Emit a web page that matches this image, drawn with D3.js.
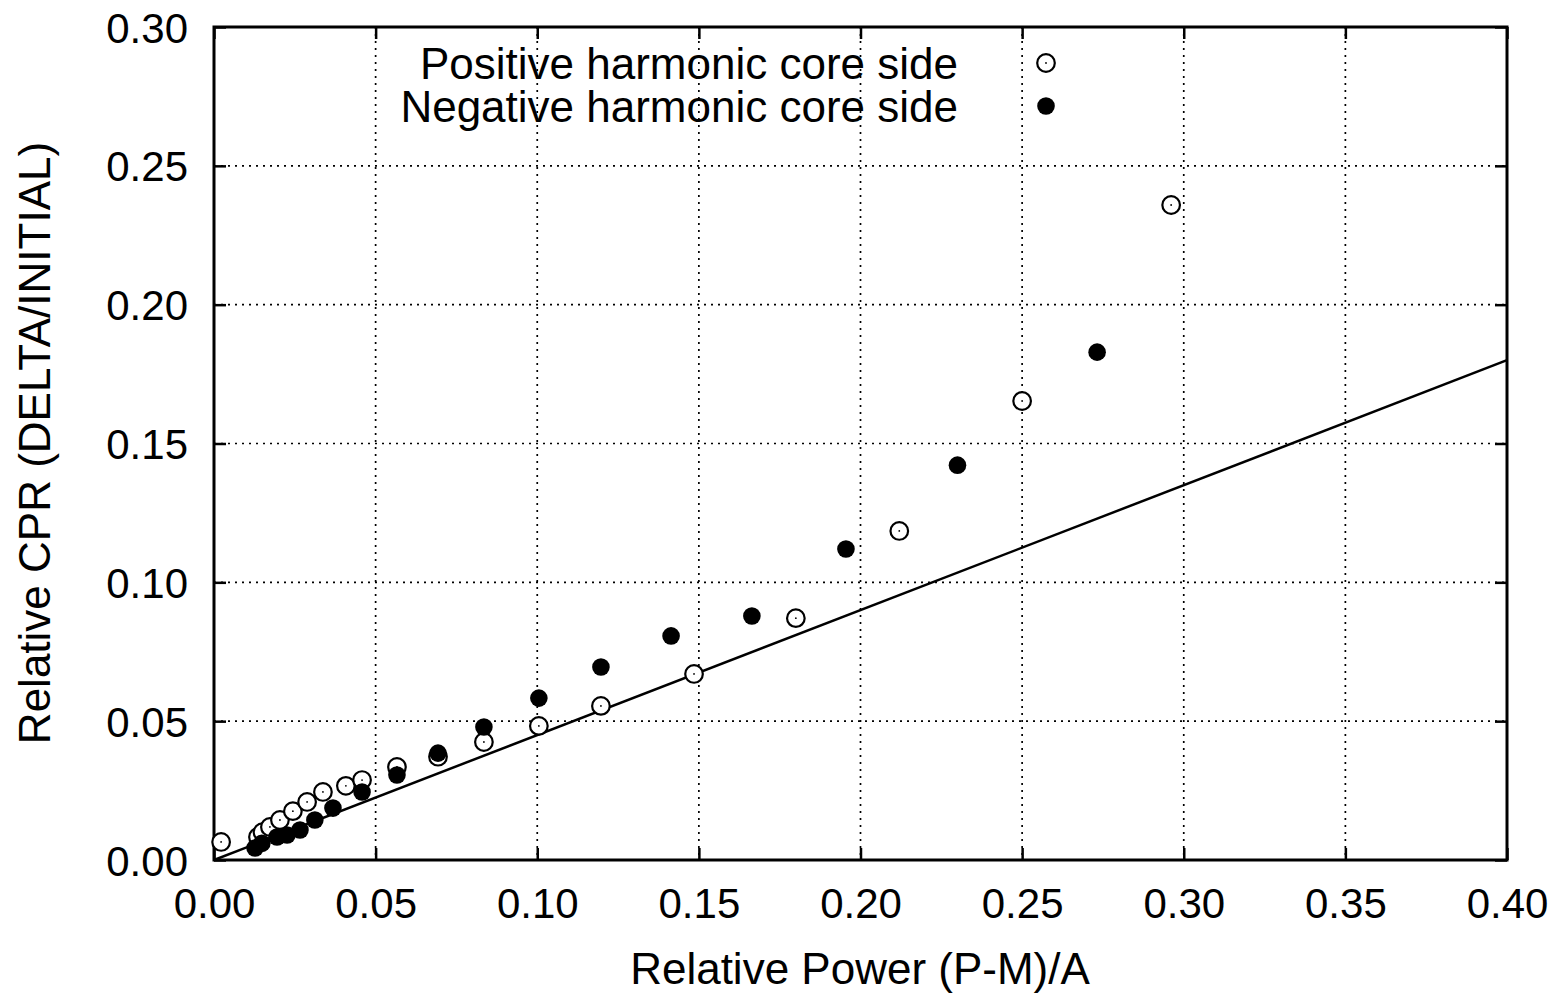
<!DOCTYPE html>
<html lang="en">
<head>
  <meta charset="UTF-8">
  <title>Relative CPR vs Relative Power</title>
  <style>
    body {
      margin: 0;
      padding: 0;
      background-color: #ffffff;
    }
    svg {
      display: block;
      font-family: "Liberation Sans", Arial, sans-serif;
    }
  </style>
</head>
<body>
<div id="chart"></div>
<script src="https://d3js.org/d3.v7.min.js"></script>
<script>
  // data
  const xTicks = [0, 0.05, 0.10, 0.15, 0.20, 0.25, 0.30, 0.35, 0.40];
  const yTicks = [0, 0.05, 0.10, 0.15, 0.20, 0.25, 0.30];

  const posX = [0.0022, 0.0136, 0.0150, 0.0173, 0.0204, 0.0244, 0.0288, 0.0337, 0.0408, 0.0458, 0.0566,
                0.0693, 0.0835, 0.1005, 0.1197, 0.1485, 0.1800, 0.2120, 0.2500, 0.2961];
  const posY = [0.0065, 0.0083, 0.0100, 0.0119, 0.0144, 0.0176, 0.0209, 0.0245, 0.0267, 0.0288, 0.0335,
                0.0372, 0.0425, 0.0483, 0.0555, 0.0670, 0.0871, 0.1185, 0.1653, 0.2359];

  const negX = [0.0127, 0.0148, 0.0195, 0.0226, 0.0266, 0.0312, 0.0368, 0.0458, 0.0566,
                0.0693, 0.0835, 0.1005, 0.1197, 0.1414, 0.1664, 0.1955, 0.2300, 0.2732];
  const negY = [0.0043, 0.0060, 0.0083, 0.0090, 0.0108, 0.0144, 0.0187, 0.0245, 0.0306,
                0.0385, 0.0479, 0.0583, 0.0695, 0.0807, 0.0879, 0.1120, 0.1422, 0.1829];

  const fitX = [0, 0.40];
  const fitY = [0, 0.18];

  const seriesNames = ["Positive harmonic core side", "Negative harmonic core side"];

  const width = 1568;
  const height = 994;
  const plot = { left: 214, right: 1507, top: 27, bottom: 860 };

  const svg = d3.select("#chart").append("svg")
          .attr("width", width)
          .attr("height", height);

  svg.append("rect").attr("width", width).attr("height", height).attr("fill", "#fff");

  const xScale = d3.scaleLinear().domain([0, 0.4]).range([plot.left, plot.right]);
  const yScale = d3.scaleLinear().domain([0, 0.3]).range([plot.bottom, plot.top]);
  const fmt = d3.format(".2f");

  // dotted grid
  const grid = svg.append("g").attr("stroke", "#000").attr("stroke-width", 1.7)
          .attr("stroke-dasharray", "2,5");
  grid.selectAll(".gx").data(xTicks.slice(1, -1)).enter().append("line")
          .attr("x1", d => xScale(d)).attr("x2", d => xScale(d))
          .attr("y1", plot.top).attr("y2", plot.bottom);
  grid.selectAll(".gy").data(yTicks.slice(1, -1)).enter().append("line")
          .attr("y1", d => yScale(d)).attr("y2", d => yScale(d))
          .attr("x1", plot.left).attr("x2", plot.right);

  // axes with inward ticks, mirrored
  const tickLen = 12;
  const styleAxis = g => {
    g.select(".domain").remove();
    g.selectAll(".tick line").attr("stroke", "#000").attr("stroke-width", 2.5);
    g.selectAll(".tick text").attr("fill", "#000").attr("font-size", 42)
            .attr("font-family", "'Liberation Sans', Arial, sans-serif");
  };

  svg.append("g").attr("transform", `translate(0,${plot.bottom})`)
          .call(d3.axisBottom(xScale).tickValues(xTicks).tickFormat(fmt)
                  .tickSizeInner(-tickLen).tickPadding(28))
          .call(styleAxis)
          .call(g => g.selectAll(".tick text").attr("dy", "0.72em"));
  svg.append("g").attr("transform", `translate(0,${plot.top})`)
          .call(d3.axisTop(xScale).tickValues(xTicks).tickFormat("").tickSizeInner(-tickLen))
          .call(styleAxis);
  svg.append("g").attr("transform", `translate(${plot.left},0)`)
          .call(d3.axisLeft(yScale).tickValues(yTicks).tickFormat(fmt)
                  .tickSizeInner(-tickLen).tickPadding(26))
          .call(styleAxis)
          .call(g => g.selectAll(".tick text").attr("dy", "0.36em"));
  svg.append("g").attr("transform", `translate(${plot.right},0)`)
          .call(d3.axisRight(yScale).tickValues(yTicks).tickFormat("").tickSizeInner(-tickLen))
          .call(styleAxis);

  // frame
  svg.append("rect")
          .attr("x", plot.left).attr("y", plot.top)
          .attr("width", plot.right - plot.left).attr("height", plot.bottom - plot.top)
          .attr("fill", "none").attr("stroke", "#000").attr("stroke-width", 3);

  // fitted line
  const line = d3.line().x(d => xScale(d[0])).y(d => yScale(d[1]));
  svg.append("path")
          .datum(d3.zip(fitX, fitY))
          .attr("d", line)
          .attr("fill", "none").attr("stroke", "#000").attr("stroke-width", 2.5);

  // points
  const posPts = d3.zip(posX, posY);
  const negPts = d3.zip(negX, negY);

  svg.append("g").selectAll("circle").data(posPts).enter().append("circle")
          .attr("cx", d => xScale(d[0])).attr("cy", d => yScale(d[1]))
          .attr("r", 8.8).attr("fill", "#fff").attr("stroke", "#000").attr("stroke-width", 2.2);
  svg.append("g").selectAll("circle").data(posPts).enter().append("circle")
          .attr("cx", d => xScale(d[0])).attr("cy", d => yScale(d[1]))
          .attr("r", 0.9).attr("fill", "#000");
  svg.append("g").selectAll("circle").data(negPts).enter().append("circle")
          .attr("cx", d => xScale(d[0])).attr("cy", d => yScale(d[1]))
          .attr("r", 8.8).attr("fill", "#000");

  // legend
  const legend = svg.append("g");
  const legendY = [63, 106];
  legend.selectAll("text").data(seriesNames).enter().append("text")
          .attr("x", 958).attr("y", (d, i) => legendY[i])
          .attr("dy", "0.36em")
          .attr("text-anchor", "end")
          .attr("font-size", 44)
          .attr("fill", "#000")
          .text(d => d);
  legend.append("circle").attr("cx", 1046).attr("cy", legendY[0]).attr("r", 8.8)
          .attr("fill", "#fff").attr("stroke", "#000").attr("stroke-width", 2.2);
  legend.append("circle").attr("cx", 1046).attr("cy", legendY[0]).attr("r", 0.9).attr("fill", "#000");
  legend.append("circle").attr("cx", 1046).attr("cy", legendY[1]).attr("r", 8.8).attr("fill", "#000");

  // axis titles
  svg.append("text")
          .attr("x", 860).attr("y", 984)
          .attr("text-anchor", "middle").attr("font-size", 44).attr("fill", "#000")
          .text("Relative Power (P-M)/A");
  svg.append("text")
          .attr("transform", `translate(50,443) rotate(-90)`)
          .attr("text-anchor", "middle").attr("font-size", 44).attr("fill", "#000")
          .text("Relative CPR (DELTA/INITIAL)");
</script>
</body>
</html>
